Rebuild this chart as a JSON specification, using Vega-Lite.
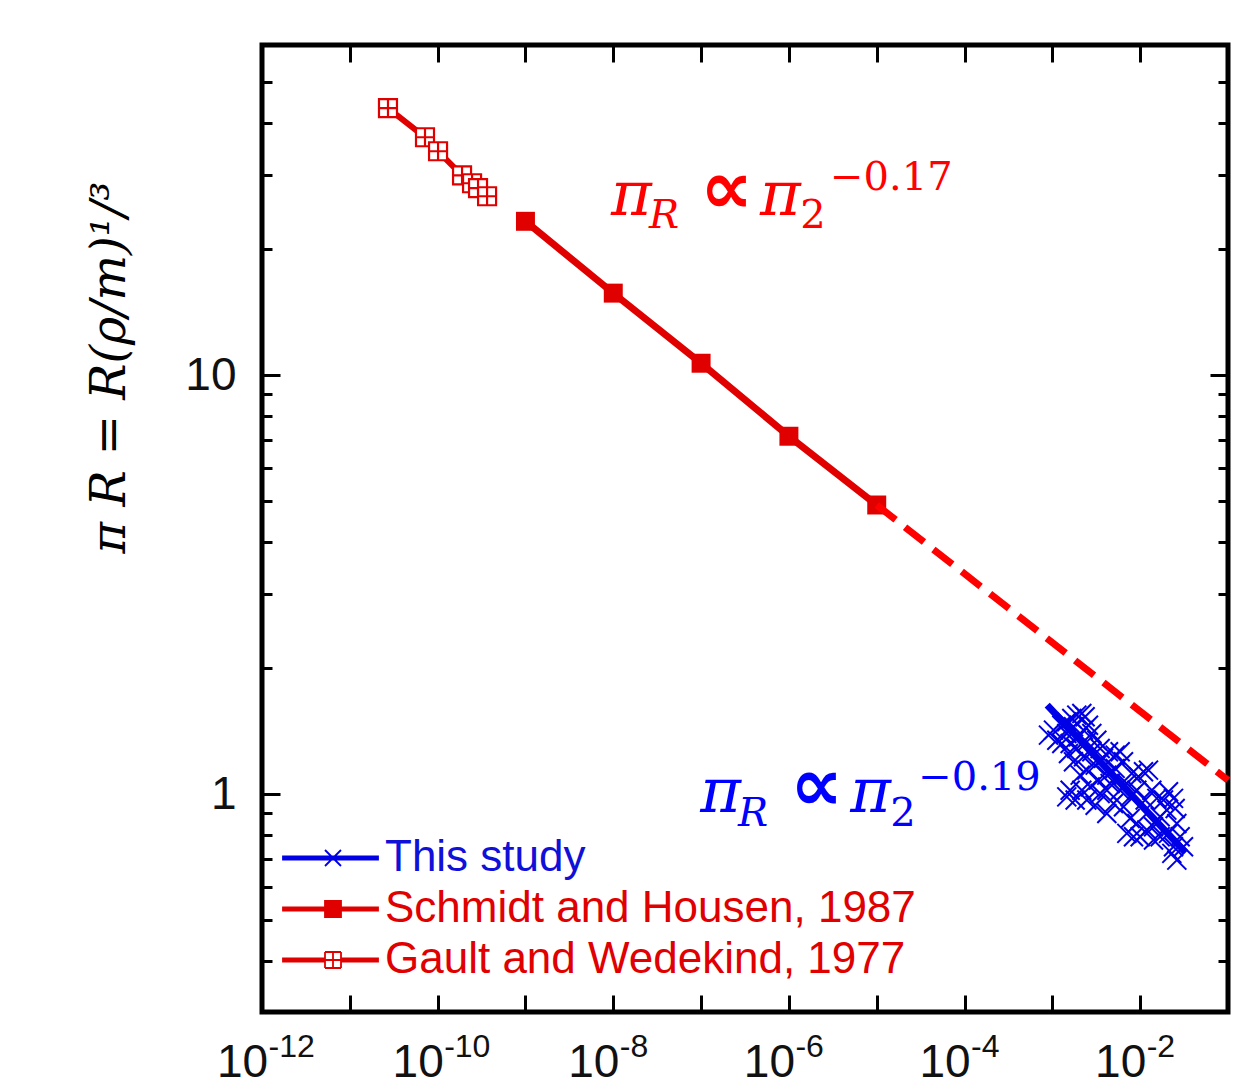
{
  "$schema": "https://vega.github.io/schema/vega-lite/v6.json",
  "width": 966,
  "height": 967,
  "padding": {"left": 86, "top": 43, "right": 0, "bottom": 0},
  "background": "white",
  "config": {
    "view": {"stroke": "#000", "strokeWidth": 5},
    "axis": {"domain": false, "grid": false, "tickColor": "#000", "tickWidth": 3, "labelFont": "Liberation Sans", "labelColor": "#111", "labelOverlap": false, "labelFlush": false},
    "legend": {"orient": "none", "title": null, "padding": 0, "symbolSize": 400, "symbolStrokeWidth": 1.8, "symbolOpacity": 1,
      "labelFont": "Liberation Sans", "labelFontSize": 44, "labelOffset": 30, "labelLimit": 2000, "rowPadding": 7}
  },
  "datasets": {
    "gault": [
      {"x": 2.72e-11, "y": 43.4, "series": "Gault and Wedekind, 1977"},
      {"x": 7.18e-11, "y": 36.98, "series": "Gault and Wedekind, 1977"},
      {"x": 1.011e-10, "y": 34.24, "series": "Gault and Wedekind, 1977"},
      {"x": 1.897e-10, "y": 30.0, "series": "Gault and Wedekind, 1977"},
      {"x": 2.466e-10, "y": 28.72, "series": "Gault and Wedekind, 1977"},
      {"x": 2.884e-10, "y": 27.95, "series": "Gault and Wedekind, 1977"},
      {"x": 3.656e-10, "y": 26.74, "series": "Gault and Wedekind, 1977"}
    ],
    "schmidt": [
      {"x": 1e-9, "y": 23.3, "series": "Schmidt and Housen, 1987"},
      {"x": 1e-8, "y": 15.7, "series": "Schmidt and Housen, 1987"},
      {"x": 1e-7, "y": 10.68, "series": "Schmidt and Housen, 1987"},
      {"x": 1e-6, "y": 7.15, "series": "Schmidt and Housen, 1987"},
      {"x": 1e-5, "y": 4.9, "series": "Schmidt and Housen, 1987"}
    ],
    "extrap": [
      {"x": 1e-5, "y": 4.9},
      {"x": 0.1, "y": 1.08}
    ],
    "fit": [
      {"x": 8.73e-4, "y": 1.631},
      {"x": 0.0326, "y": 0.727}
    ],
    "study": [
      {"x": 9.03e-4, "y": 1.383, "series": "This study"}, {"x": 1.030e-3, "y": 1.422, "series": "This study"}, {"x": 1.124e-3, "y": 1.345, "series": "This study"}, {"x": 1.281e-3, "y": 1.461, "series": "This study"},
      {"x": 1.460e-3, "y": 1.488, "series": "This study"}, {"x": 1.665e-3, "y": 1.516, "series": "This study"}, {"x": 1.898e-3, "y": 1.544, "series": "This study"}, {"x": 2.165e-3, "y": 1.558, "series": "This study"},
      {"x": 2.362e-3, "y": 1.530, "series": "This study"}, {"x": 1.740e-3, "y": 1.448, "series": "This study"}, {"x": 1.460e-3, "y": 1.396, "series": "This study"}, {"x": 1.281e-3, "y": 1.321, "series": "This study"},
      {"x": 1.594e-3, "y": 1.321, "series": "This study"}, {"x": 1.983e-3, "y": 1.370, "series": "This study"}, {"x": 2.261e-3, "y": 1.422, "series": "This study"}, {"x": 2.578e-3, "y": 1.461, "series": "This study"},
      {"x": 2.814e-3, "y": 1.396, "series": "This study"}, {"x": 2.468e-3, "y": 1.333, "series": "This study"}, {"x": 1.898e-3, "y": 1.285, "series": "This study"}, {"x": 1.526e-3, "y": 1.250, "series": "This study"},
      {"x": 3.208e-3, "y": 1.345, "series": "This study"}, {"x": 3.501e-3, "y": 1.285, "series": "This study"}, {"x": 2.814e-3, "y": 1.262, "series": "This study"}, {"x": 2.261e-3, "y": 1.228, "series": "This study"},
      {"x": 1.740e-3, "y": 1.195, "series": "This study"}, {"x": 2.072e-3, "y": 1.110, "series": "This study"}, {"x": 2.468e-3, "y": 1.141, "series": "This study"}, {"x": 3.070e-3, "y": 1.173, "series": "This study"},
      {"x": 3.821e-3, "y": 1.217, "series": "This study"}, {"x": 4.356e-3, "y": 1.262, "series": "This study"}, {"x": 5.188e-3, "y": 1.239, "series": "This study"}, {"x": 5.915e-3, "y": 1.262, "series": "This study"},
      {"x": 6.456e-3, "y": 1.195, "series": "This study"}, {"x": 5.188e-3, "y": 1.152, "series": "This study"}, {"x": 4.170e-3, "y": 1.110, "series": "This study"}, {"x": 3.351e-3, "y": 1.080, "series": "This study"},
      {"x": 2.693e-3, "y": 1.041, "series": "This study"}, {"x": 2.165e-3, "y": 1.022, "series": "This study"}, {"x": 1.594e-3, "y": 1.022, "series": "This study"}, {"x": 1.460e-3, "y": 0.985, "series": "This study"},
      {"x": 1.817e-3, "y": 0.968, "series": "This study"}, {"x": 2.468e-3, "y": 0.968, "series": "This study"}, {"x": 3.070e-3, "y": 0.941, "series": "This study"}, {"x": 4.170e-3, "y": 0.899, "series": "This study"},
      {"x": 4.966e-3, "y": 0.950, "series": "This study"}, {"x": 5.915e-3, "y": 1.022, "series": "This study"}, {"x": 7.045e-3, "y": 1.060, "series": "This study"}, {"x": 8.032e-3, "y": 1.120, "series": "This study"},
      {"x": 9.568e-3, "y": 1.100, "series": "This study"}, {"x": 1.091e-2, "y": 1.131, "series": "This study"}, {"x": 1.244e-2, "y": 1.141, "series": "This study"}, {"x": 9.157e-3, "y": 1.022, "series": "This study"},
      {"x": 7.689e-3, "y": 0.985, "series": "This study"}, {"x": 6.456e-3, "y": 0.933, "series": "This study"}, {"x": 7.689e-3, "y": 0.875, "series": "This study"}, {"x": 9.157e-3, "y": 0.851, "series": "This study"},
      {"x": 8.391e-3, "y": 0.791, "series": "This study"}, {"x": 1.140e-2, "y": 0.968, "series": "This study"}, {"x": 1.357e-2, "y": 1.022, "series": "This study"}, {"x": 1.548e-2, "y": 0.977, "series": "This study"},
      {"x": 1.843e-2, "y": 0.968, "series": "This study"}, {"x": 2.101e-2, "y": 1.013, "series": "This study"}, {"x": 2.396e-2, "y": 0.977, "series": "This study"}, {"x": 2.503e-2, "y": 0.924, "series": "This study"},
      {"x": 2.011e-2, "y": 0.916, "series": "This study"}, {"x": 1.688e-2, "y": 0.883, "series": "This study"}, {"x": 1.418e-2, "y": 0.836, "series": "This study"}, {"x": 1.191e-2, "y": 0.821, "series": "This study"},
      {"x": 1.688e-2, "y": 0.791, "series": "This study"}, {"x": 2.101e-2, "y": 0.806, "series": "This study"}, {"x": 2.614e-2, "y": 0.851, "series": "This study"}, {"x": 2.853e-2, "y": 0.791, "series": "This study"},
      {"x": 2.396e-2, "y": 0.749, "series": "This study"}, {"x": 2.614e-2, "y": 0.696, "series": "This study"}, {"x": 3.114e-2, "y": 0.749, "series": "This study"}, {"x": 2.293e-2, "y": 0.722, "series": "This study"},
      {"x": 1.418e-2, "y": 0.777, "series": "This study"}, {"x": 9.995e-3, "y": 0.791, "series": "This study"}, {"x": 7.045e-3, "y": 0.806, "series": "This study"}, {"x": 4.170e-3, "y": 1.022, "series": "This study"},
      {"x": 3.501e-3, "y": 1.004, "series": "This study"}, {"x": 4.550e-3, "y": 1.060, "series": "This study"}
    ],
    "formula": [
      {"t": "π", "x": 9.44e-9, "y": 24.09, "role": "sym", "grp": "red"},
      {"t": "R", "x": 2.55e-8, "y": 22.43, "role": "sub", "grp": "red"},
      {"t": "∝", "x": 9.75e-8, "y": 24.35, "role": "op", "grp": "red"},
      {"t": "π", "x": 4.70e-7, "y": 24.09, "role": "sym", "grp": "red"},
      {"t": "2", "x": 1.343e-6, "y": 22.43, "role": "num", "grp": "red"},
      {"t": "−0.17", "x": 2.944e-6, "y": 27.64, "role": "num", "grp": "red"},
      {"t": "π", "x": 9.75e-8, "y": 0.906, "role": "sym", "grp": "blue"},
      {"t": "R", "x": 2.63e-7, "y": 0.839, "role": "sub", "grp": "blue"},
      {"t": "∝", "x": 1.033e-6, "y": 0.916, "role": "op", "grp": "blue"},
      {"t": "π", "x": 4.98e-6, "y": 0.906, "role": "sym", "grp": "blue"},
      {"t": "2", "x": 1.422e-5, "y": 0.839, "role": "num", "grp": "blue"},
      {"t": "−0.19", "x": 2.965e-5, "y": 1.022, "role": "num", "grp": "blue"}
    ]
  },
  "resolve": {
    "axis": {"x": "independent", "y": "independent"},
    "scale": {"fill": "independent", "stroke": "independent", "shape": "independent"},
    "legend": {"fill": "independent", "stroke": "independent", "shape": "independent"}
  },
  "layer": [
    {
      "data": {"name": "gault"},
      "mark": {"type": "line", "color": "#e00000", "strokeWidth": 6},
      "encoding": {
        "x": {"field": "x", "type": "quantitative", "scale": {"type": "log", "domain": [1e-12, 0.1], "nice": false},
          "axis": {"orient": "bottom", "values": [1e-12, 1e-11, 1e-10, 1e-9, 1e-8, 1e-7, 1e-6, 1e-5, 1e-4, 1e-3, 1e-2, 1e-1], "tickSize": -17, "labelPadding": 45, "labelFontSize": 46, "labelAlign": "center", "labelOffset": -20, "title": null,
            "labelExpr": "round(log(datum.value)/LN10) % 2 === 0 ? '10' : ''"}},
        "y": {"field": "y", "type": "quantitative", "scale": {"type": "log", "domain": [0.302, 61.4], "nice": false},
          "axis": {"orient": "left", "values": [1, 10], "tickSize": -18, "labelPadding": 44, "labelFontSize": 46,
            "labelExpr": "datum.value < 5 ? '1' : '10'",
            "title": "π R = R(ρ/m)¹/³", "titleFont": "DejaVu Serif", "titleFontStyle": "italic", "titleFontWeight": "normal", "titleFontSize": 48, "titleColor": "#000",
            "titleX": -128, "titleY": 322, "titleAngle": -90, "titleBaseline": "bottom", "titleAlign": "center"}}
      }
    },
    {
      "data": {"name": "gault"},
      "mark": {"type": "point", "shape": "M-1,-1H1V1H-1ZM0,-1V1M-1,0H1", "size": 324, "filled": true, "fill": "white", "stroke": "#e00000", "strokeWidth": 2.2, "opacity": 1},
      "encoding": {
        "x": {"field": "x", "type": "quantitative", "scale": {"type": "log", "domain": [1e-12, 0.1], "nice": false},
          "axis": {"orient": "top", "values": [1e-12, 1e-11, 1e-10, 1e-9, 1e-8, 1e-7, 1e-6, 1e-5, 1e-4, 1e-3, 1e-2, 1e-1], "tickSize": -17, "labels": false, "title": null}},
        "y": {"field": "y", "type": "quantitative", "scale": {"type": "log", "domain": [0.302, 61.4], "nice": false},
          "axis": {"orient": "right", "values": [1, 10], "tickSize": -18, "labels": false, "title": null}}
      }
    },
    {
      "data": {"name": "schmidt"},
      "mark": {"type": "line", "color": "#e00000", "strokeWidth": 7},
      "encoding": {
        "x": {"field": "x", "type": "quantitative", "scale": {"type": "log", "domain": [1e-12, 0.1], "nice": false},
          "axis": {"orient": "bottom", "values": [1e-12, 1e-11, 1e-10, 1e-9, 1e-8, 1e-7, 1e-6, 1e-5, 1e-4, 1e-3, 1e-2, 1e-1], "ticks": false, "labelPadding": 19, "labelFontSize": 32, "labelAlign": "left", "labelOffset": 6, "title": null,
            "labelExpr": "round(log(datum.value)/LN10) % 2 === 0 ? '-' + abs(round(log(datum.value)/LN10)) : ''"}},
        "y": {"field": "y", "type": "quantitative", "scale": {"type": "log", "domain": [0.302, 61.4], "nice": false},
          "axis": {"orient": "left", "values": [0.4, 0.5, 0.6, 0.7, 0.8, 0.9, 2, 3, 4, 5, 6, 7, 8, 9, 20, 30, 40, 50], "tickSize": -10, "labels": false, "title": null}}
      }
    },
    {
      "data": {"name": "schmidt"},
      "mark": {"type": "point", "shape": "square", "size": 360, "filled": true, "color": "#e00000", "opacity": 1},
      "encoding": {
        "x": {"field": "x", "type": "quantitative", "scale": {"type": "log", "domain": [1e-12, 0.1], "nice": false}, "axis": null},
        "y": {"field": "y", "type": "quantitative", "scale": {"type": "log", "domain": [0.302, 61.4], "nice": false},
          "axis": {"orient": "right", "values": [0.4, 0.5, 0.6, 0.7, 0.8, 0.9, 2, 3, 4, 5, 6, 7, 8, 9, 20, 30, 40, 50], "tickSize": -10, "labels": false, "title": null}}
      }
    },
    {
      "data": {"name": "extrap"},
      "mark": {"type": "line", "color": "#ff0000", "strokeWidth": 7, "strokeDash": [24, 12]},
      "encoding": {
        "x": {"field": "x", "type": "quantitative", "scale": {"type": "log", "domain": [1e-12, 0.1], "nice": false}, "axis": null},
        "y": {"field": "y", "type": "quantitative", "scale": {"type": "log", "domain": [0.302, 61.4], "nice": false}, "axis": null}
      }
    },
    {
      "data": {"name": "study"},
      "mark": {"type": "point", "shape": "M-1,-1L1,1M-1,1L1,-1", "size": 361, "filled": false, "color": "#0000e6", "strokeWidth": 2, "opacity": 1},
      "encoding": {
        "x": {"field": "x", "type": "quantitative", "scale": {"type": "log", "domain": [1e-12, 0.1], "nice": false}, "axis": null},
        "y": {"field": "y", "type": "quantitative", "scale": {"type": "log", "domain": [0.302, 61.4], "nice": false}, "axis": null}
      }
    },
    {
      "data": {"name": "fit"},
      "mark": {"type": "line", "color": "#0000e6", "strokeWidth": 7},
      "encoding": {
        "x": {"field": "x", "type": "quantitative", "scale": {"type": "log", "domain": [1e-12, 0.1], "nice": false}, "axis": null},
        "y": {"field": "y", "type": "quantitative", "scale": {"type": "log", "domain": [0.302, 61.4], "nice": false}, "axis": null}
      }
    },
    {
      "data": {"name": "study"},
      "mark": {"type": "point", "filled": true, "opacity": 0, "strokeWidth": 1.8},
      "encoding": {
        "x": {"field": "x", "type": "quantitative", "scale": {"type": "log", "domain": [1e-12, 0.1], "nice": false}, "axis": null},
        "y": {"field": "y", "type": "quantitative", "scale": {"type": "log", "domain": [0.302, 61.4], "nice": false}, "axis": null},
        "fill": {"field": "series", "type": "nominal", "scale": {"domain": ["This study"], "range": ["#0000e6"]},
          "legend": {"legendX": 49, "legendY": 791, "labelColor": "#1010d8", "symbolOpacity": 1}},
        "stroke": {"field": "series", "type": "nominal", "scale": {"domain": ["This study"], "range": ["#0000e6"]},
          "legend": {"legendX": 49, "legendY": 791, "labelColor": "#1010d8", "symbolOpacity": 1}},
        "shape": {"field": "series", "type": "nominal", "scale": {"domain": ["This study"], "range": ["M-5,-0.15H4.5V0.15H-5Z M-0.8,-0.8L0.8,0.8 M-0.8,0.8L0.8,-0.8"]},
          "legend": {"legendX": 49, "legendY": 791, "labelColor": "#1010d8", "symbolOpacity": 1}}
      }
    },
    {
      "data": {"name": "schmidt"},
      "mark": {"type": "point", "filled": true, "opacity": 0, "strokeWidth": 1.8},
      "encoding": {
        "x": {"field": "x", "type": "quantitative", "scale": {"type": "log", "domain": [1e-12, 0.1], "nice": false}, "axis": null},
        "y": {"field": "y", "type": "quantitative", "scale": {"type": "log", "domain": [0.302, 61.4], "nice": false}, "axis": null},
        "fill": {"field": "series", "type": "nominal", "scale": {"domain": ["Schmidt and Housen, 1987", "Gault and Wedekind, 1977"], "range": ["#e00000", "#e00000"]},
          "legend": {"legendX": 49, "legendY": 842, "labelColor": "#e00000", "symbolOpacity": 1}},
        "stroke": {"field": "series", "type": "nominal", "scale": {"domain": ["Schmidt and Housen, 1987", "Gault and Wedekind, 1977"], "range": ["#e00000", "#e00000"]},
          "legend": {"legendX": 49, "legendY": 842, "labelColor": "#e00000", "symbolOpacity": 1}},
        "shape": {"field": "series", "type": "nominal", "scale": {"domain": ["Schmidt and Housen, 1987", "Gault and Wedekind, 1977"],
            "range": ["M-5,-0.15H4.5V0.15H-5Z M-0.8,-0.8H0.8V0.8H-0.8Z",
                      "M-5,-0.15H-0.8V0.15H-5Z M0.8,-0.15H4.5V0.15H0.8Z M-0.8,-0.8H0.8 M0.8,-0.8V0.8 M0.8,0.8H-0.8 M-0.8,0.8V-0.8 M0,-0.8V0.8 M-0.8,0H0.8"]},
          "legend": {"legendX": 49, "legendY": 842, "labelColor": "#e00000", "symbolOpacity": 1}}
      }
    },
    {
      "data": {"name": "formula"},
      "transform": [{"filter": "datum.role === 'sym' || datum.role === 'sub'"}],
      "mark": {"type": "text", "font": "DejaVu Serif", "fontStyle": "italic", "align": "left", "baseline": "alphabetic"},
      "encoding": {
        "x": {"field": "x", "type": "quantitative", "scale": {"type": "log", "domain": [1e-12, 0.1], "nice": false}, "axis": null},
        "y": {"field": "y", "type": "quantitative", "scale": {"type": "log", "domain": [0.302, 61.4], "nice": false}, "axis": null},
        "text": {"field": "t"},
        "size": {"condition": {"test": "datum.role === 'sym'", "value": 62}, "value": 40},
        "color": {"condition": {"test": "datum.grp === 'blue'", "value": "#0000ff"}, "value": "#ff0000"}
      }
    },
    {
      "data": {"name": "formula"},
      "transform": [{"filter": "datum.role === 'op'"}],
      "mark": {"type": "text", "font": "DejaVu Sans", "fontWeight": "bold", "align": "left", "baseline": "alphabetic"},
      "encoding": {
        "x": {"field": "x", "type": "quantitative", "scale": {"type": "log", "domain": [1e-12, 0.1], "nice": false}, "axis": null},
        "y": {"field": "y", "type": "quantitative", "scale": {"type": "log", "domain": [0.302, 61.4], "nice": false}, "axis": null},
        "text": {"field": "t"},
        "size": {"value": 74},
        "color": {"condition": {"test": "datum.grp === 'blue'", "value": "#0000ff"}, "value": "#ff0000"}
      }
    },
    {
      "data": {"name": "formula"},
      "transform": [{"filter": "datum.role === 'num'"}],
      "mark": {"type": "text", "font": "DejaVu Serif", "align": "left", "baseline": "alphabetic"},
      "encoding": {
        "x": {"field": "x", "type": "quantitative", "scale": {"type": "log", "domain": [1e-12, 0.1], "nice": false}, "axis": null},
        "y": {"field": "y", "type": "quantitative", "scale": {"type": "log", "domain": [0.302, 61.4], "nice": false}, "axis": null},
        "text": {"field": "t"},
        "size": {"value": 40},
        "color": {"condition": {"test": "datum.grp === 'blue'", "value": "#0000ff"}, "value": "#ff0000"}
      }
    }
  ]
}
